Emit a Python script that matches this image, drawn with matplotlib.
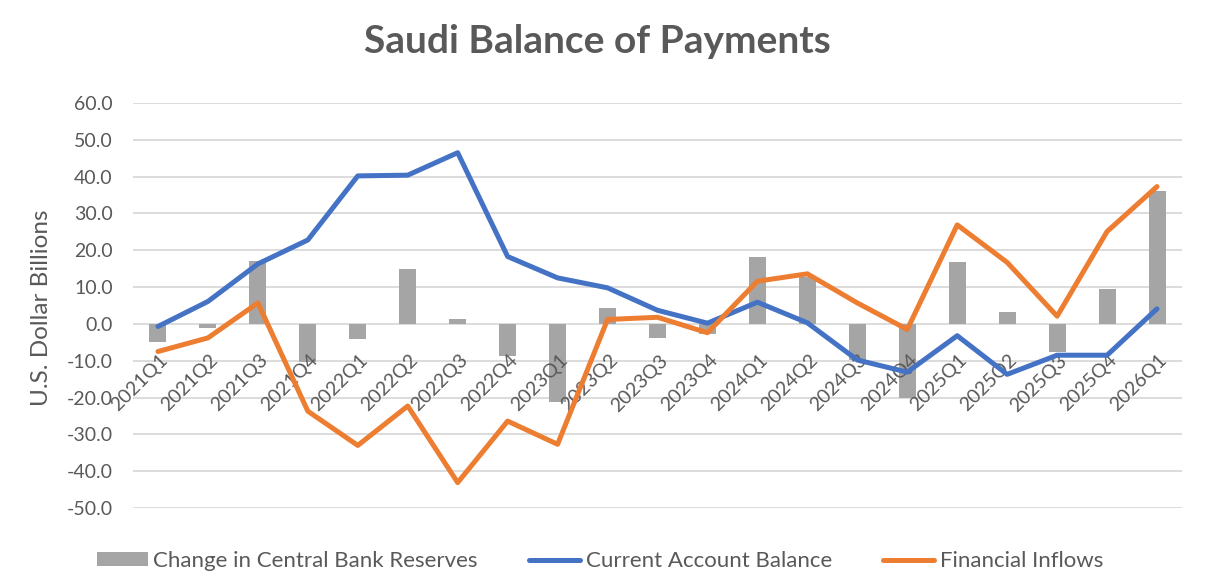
import matplotlib
matplotlib.use("Agg")
import matplotlib.pyplot as plt
import numpy as np
from matplotlib.patches import Patch
from matplotlib.lines import Line2D

quarters = ["2021Q1", "2021Q2", "2021Q3", "2021Q4", "2022Q1", "2022Q2", "2022Q3",
            "2022Q4", "2023Q1", "2023Q2", "2023Q3", "2023Q4", "2024Q1", "2024Q2",
            "2024Q3", "2024Q4", "2025Q1", "2025Q2", "2025Q3", "2025Q4", "2026Q1"]
reserves = [-5.0, -1.1, 17.2, -10.4, -4.1, 15.0, 1.4, -8.8, -21.2, 4.2, -3.9, -2.7,
            18.3, 12.7, -9.7, -20.1, 16.9, 3.2, -7.5, 9.6, 36.1]
current_account = [-0.7, 6.1, 16.3, 22.8, 40.2, 40.4, 46.5, 18.3, 12.5, 9.8, 3.7, 0.2,
                   5.9, 0.3, -9.8, -13.1, -3.2, -13.7, -8.5, -8.5, 4.1]
financial_inflows = [-7.5, -3.8, 5.7, -23.7, -33.0, -22.3, -43.1, -26.4, -32.7, 1.2,
                     1.8, -2.4, 11.6, 13.6, 5.7, -1.5, 26.9, 16.7, 2.1, 25.1, 37.3]
yticks = [60, 50, 40, 30, 20, 10, 0, -10, -20, -30, -40, -50]

FONT = ["Lato", "DejaVu Sans"]
plt.rcParams["font.family"] = FONT
TXT = "#595959"
BLUE = "#4472C4"
ORANGE = "#ED7D31"
GRAY = "#A5A5A5"
W, H = 1207, 587

fig = plt.figure(figsize=(W / 100, H / 100), dpi=100)
ax = fig.add_axes([133 / W, 1 - 508 / H, (1182 - 133) / W, (508 - 103) / H])

x = np.arange(len(quarters))
ax.bar(x, reserves, width=0.34, color=GRAY, zorder=2)
ax.plot(x, current_account, color=BLUE, lw=3.6, solid_capstyle="round",
        solid_joinstyle="round", zorder=3)
ax.plot(x, financial_inflows, color=ORANGE, lw=3.6, solid_capstyle="round",
        solid_joinstyle="round", zorder=4)

ax.set_xlim(-0.5, len(quarters) - 0.5)
ax.set_ylim(-50, 60)
ax.set_yticks(yticks)
ax.set_yticklabels([f"{v:.1f}" for v in yticks], color=TXT, fontsize=14)
ax.yaxis.grid(True, color="#D9D9D9", lw=1.3, zorder=0)
ax.set_axisbelow(True)
for s in ["top", "right", "left", "bottom"]:
    ax.spines[s].set_visible(False)
ax.tick_params(axis="y", length=0, pad=14.5)
ax.set_xticks([])

# category labels rotated, hanging just below the zero line
for i, q in enumerate(quarters):
    ax.annotate(q, xy=(x[i], 0), xytext=(8, -27), textcoords="offset points",
                rotation=45, ha="right", va="baseline", rotation_mode="anchor",
                color=TXT, fontsize=14, annotation_clip=False, zorder=2.5)

fig.text(42 / W, 1 - 308 / H, "U.S. Dollar Billions", rotation=90, ha="center",
         va="center", color=TXT, fontsize=17.5)

fig.text(0.495, 1 - 53 / H, "Saudi Balance of Payments", ha="center", va="baseline",
         fontsize=28, fontweight="bold", color=TXT)

handles = [Patch(facecolor=GRAY, edgecolor="none"),
           Line2D([0], [0], color=BLUE, lw=3.6, solid_capstyle="round"),
           Line2D([0], [0], color=ORANGE, lw=3.6, solid_capstyle="round")]
labels = ["Change in Central Bank Reserves", "Current Account Balance", "Financial Inflows"]
leg = fig.legend(handles, labels, loc="center", bbox_to_anchor=(0.497, 1 - 561 / H),
                 ncol=3, frameon=False, fontsize=16, handlelength=2.3,
                 handletextpad=0.25, columnspacing=2.3, handleheight=0.6)
for t in leg.get_texts():
    t.set_color(TXT)

fig.savefig("out.png", dpi=100)
